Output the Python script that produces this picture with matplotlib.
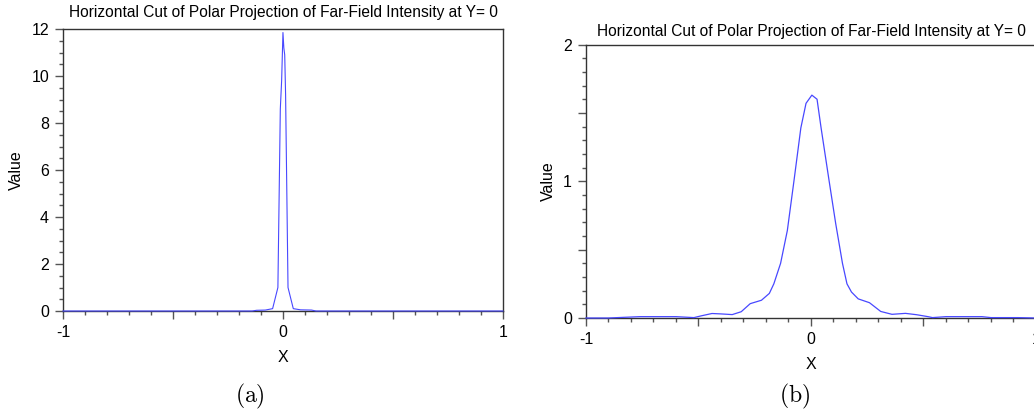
import numpy as np
import matplotlib.pyplot as plt
from matplotlib.ticker import MultipleLocator, FixedLocator, FixedFormatter

plt.rcParams['font.family'] = ['Liberation Sans', 'DejaVu Sans']
plt.rcParams['mathtext.fontset'] = 'cm'

# horizontal cut, case (a): very narrow peak
x_a = [-1.0, -0.14, -0.12, -0.08, -0.047, -0.023, -0.012, -0.006, 0.0,
       0.004, 0.008, 0.012, 0.023, 0.047, 0.08, 0.13, 0.15, 1.0]
y_a = [0.0, 0.0, 0.03, 0.04, 0.1, 1.0, 8.6, 9.8, 11.85,
       11.2, 10.9, 9.2, 1.0, 0.1, 0.05, 0.04, 0.0, 0.0]

# horizontal cut, case (b): wider peak with side lobes
x_b = [-1.0, -0.9, -0.86, -0.76, -0.6, -0.52, -0.49, -0.44, -0.4, -0.35,
       -0.31, -0.27, -0.22, -0.185, -0.165, -0.135, -0.105, -0.075, -0.045,
       -0.022, 0.004, 0.027, 0.045, 0.08, 0.11, 0.14, 0.16, 0.18, 0.21,
       0.26, 0.31, 0.36, 0.42, 0.47, 0.52, 0.54, 0.6, 0.76, 0.8, 0.92, 1.0]
y_b = [0.0, 0.0, 0.003, 0.01, 0.01, 0.003, 0.015, 0.033, 0.03, 0.025,
       0.046, 0.105, 0.13, 0.18, 0.25, 0.40, 0.64, 1.01, 1.39,
       1.57, 1.63, 1.60, 1.39, 1.01, 0.69, 0.40, 0.25, 0.19, 0.14,
       0.112, 0.048, 0.027, 0.034, 0.024, 0.01, 0.003, 0.01, 0.01, 0.003, 0.003, 0.0]

# tick positions and labels
xticks = [-1, -0.5, 0, 0.5, 1]
xlabels = ['-1', '', '0', '', '1']
yticks_a = [0, 2, 4, 6, 8, 10, 12]
ylabels_a = ['0', '2', '4', '6', '8', '10', '12']
yticks_b = [0, 0.5, 1, 1.5, 2]
ylabels_b = ['0', '', '1', '', '2']

title = 'Horizontal Cut of Polar Projection of Far-Field Intensity at Y= 0'
line_col = '#4848ff'
tick_col = '#555555'

fig = plt.figure(figsize=(10.34, 4.15), dpi=100)
ax1 = fig.add_axes([0.0609, 0.2506, 0.4255, 0.6795])
ax2 = fig.add_axes([0.5667, 0.2337, 0.4352, 0.659])


def style(ax, ymax, yticks, ylabels, yminor, tpad, ypad):
    ax.set_xlim(-1, 1)
    ax.set_ylim(0, ymax)
    ax.xaxis.set_major_locator(FixedLocator(xticks))
    ax.xaxis.set_major_formatter(FixedFormatter(xlabels))
    ax.xaxis.set_minor_locator(MultipleLocator(0.1))
    ax.yaxis.set_major_locator(FixedLocator(yticks))
    ax.yaxis.set_major_formatter(FixedFormatter(ylabels))
    ax.yaxis.set_minor_locator(MultipleLocator(yminor))
    ax.tick_params(which='major', direction='out', length=5.5, width=1,
                   color=tick_col, labelsize=11.5, pad=4.5)
    ax.tick_params(which='minor', direction='out', length=3, width=1,
                   color=tick_col)
    for s in ax.spines.values():
        s.set_color('#333333')
        s.set_linewidth(1)
    ax.set_title(title, fontsize=11.2, pad=tpad)
    ax.set_xlabel('X', fontsize=11.5, labelpad=7)
    ax.set_ylabel('Value', fontsize=11.5, labelpad=ypad)


ax1.plot(x_a, y_a, color=line_col, lw=0.8, clip_on=False, zorder=5)
style(ax1, 12, yticks_a, ylabels_a, 0.5, 8.5, 5.5)

ax2.plot(x_b, y_b, color=line_col, lw=0.9, clip_on=False, zorder=5)
style(ax2, 2, yticks_b, ylabels_b, 0.1, 6.5, 5.5)
ax2.spines['right'].set_visible(False)

fig.text(250 / 1034, 1 - 396 / 415, r'$\mathrm{(a)}$', fontsize=17,
         ha='center', va='center')
fig.text(795 / 1034, 1 - 396 / 415, r'$\mathrm{(b)}$', fontsize=17,
         ha='center', va='center')

fig.savefig('out.png', dpi=100)
